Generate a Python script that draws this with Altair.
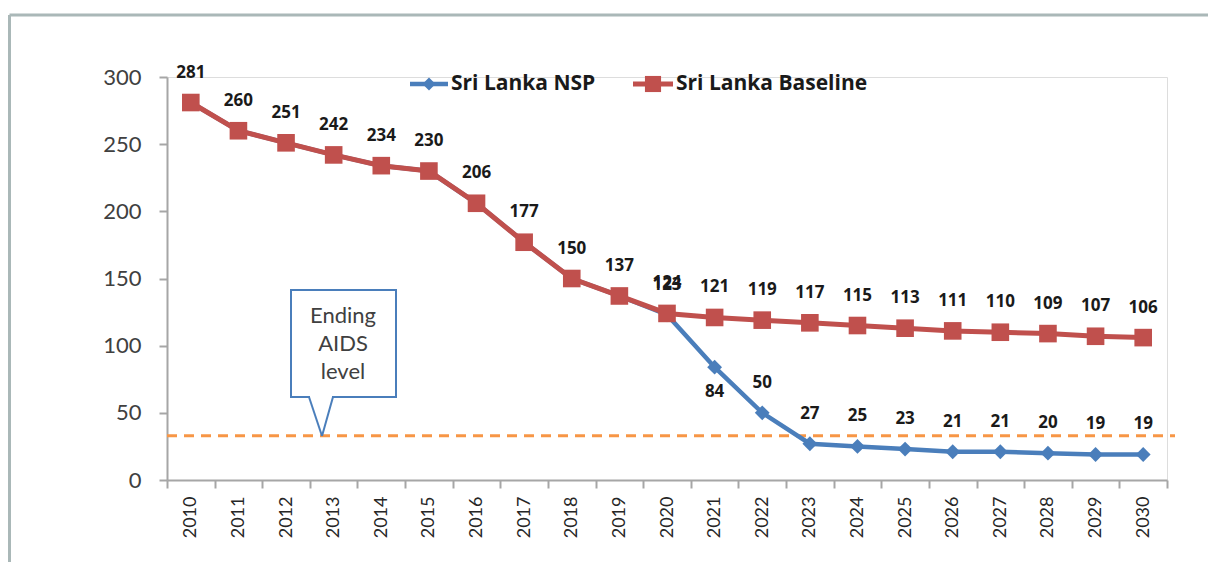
import altair as alt
import pandas as pd

years = list(range(2010, 2031))
baseline = [281, 260, 251, 242, 234, 230, 206, 177, 150, 137, 124, 121, 119, 117, 115, 113, 111, 110, 109, 107, 106]
nsp = [281, 260, 251, 242, 234, 230, 206, 177, 150, 137, 123, 84, 50, 27, 25, 23, 21, 21, 20, 19, 19]
series_names = ["Sri Lanka NSP", "Sri Lanka Baseline"]
ending_aids_level = 33
callout_lines = ["Ending", "AIDS", "level"]

BLUE = "#4a7ebb"
RED = "#c0504d"
ORANGE = "#f79646"
FONT = "Lato"
BFONT = "Open Sans"

df_base = pd.DataFrame({"year": years, "value": baseline})
df_nsp = pd.DataFrame({"year": years, "value": nsp})
df_nsp_lab = df_nsp[df_nsp["year"] >= 2020]
one = pd.DataFrame({"a": [0]})

W, H = 1000, 403

x = alt.X("year:O",
          scale=alt.Scale(type="band", paddingInner=0, paddingOuter=0),
          axis=alt.Axis(title=None, labelAngle=-90, labelAlign="right", labelBaseline="middle",
                        labelFontSize=18, labelFont=FONT, labelColor="#262626",
                        tickBand="extent", tickSize=8, tickColor="#a6a6a6", tickWidth=2,
                        domainColor="#a6a6a6", domainWidth=2, labelPadding=8))
y = alt.Y("value:Q",
          scale=alt.Scale(domain=[0, 300]),
          axis=alt.Axis(title=None, values=[0, 50, 100, 150, 200, 250, 300], grid=False,
                        labelFontSize=22, labelFont=FONT, labelColor="#404040",
                        tickSize=8, tickColor="#a6a6a6", tickWidth=2,
                        domainColor="#a6a6a6", domainWidth=2, labelPadding=18))

nsp_line = alt.Chart(df_nsp).mark_line(color=BLUE, strokeWidth=4.5).encode(x=x, y=y)
nsp_pts = alt.Chart(df_nsp).mark_point(shape="diamond", filled=True, size=220, color=BLUE, opacity=1).encode(x=x, y=y)
base_line = alt.Chart(df_base).mark_line(color=RED, strokeWidth=5).encode(x=x, y=y)
base_pts = alt.Chart(df_base).mark_point(shape="square", filled=True, size=310, color=RED, opacity=1).encode(x=x, y=y)

lab_style = dict(font=BFONT, fontSize=17, fontWeight="bold", color="#1a1a1a", baseline="middle")
base_lab = alt.Chart(df_base).mark_text(dy=-30, **lab_style).encode(x=x, y=y, text="value:Q")
nsp_lab_above = alt.Chart(df_nsp_lab).transform_filter("datum.year != 2021").mark_text(dy=-30, **lab_style).encode(x=x, y=y, text="value:Q")
nsp_lab_below = alt.Chart(df_nsp_lab).transform_filter("datum.year == 2021").mark_text(dy=25, **lab_style).encode(x=x, y=y, text="value:Q")

dash = alt.Chart(one).mark_rule(color=ORANGE, strokeWidth=3, strokeDash=[10, 7]).encode(
    y=alt.Y(datum=ending_aids_level, type="quantitative"), x=alt.value(0), x2=alt.value(1008))

# callout
layers_callout = []
layers_callout.append(alt.Chart(one).mark_rect(fill="white", stroke=BLUE, strokeWidth=2).encode(
    x=alt.value(124), x2=alt.value(229), y=alt.value(213), y2=alt.value(320)))
layers_callout.append(alt.Chart(one).mark_rule(color="white", strokeWidth=3).encode(
    x=alt.value(143), x2=alt.value(165), y=alt.value(320), y2=alt.value(320)))
layers_callout.append(alt.Chart(one).mark_rule(color=BLUE, strokeWidth=2).encode(
    x=alt.value(142), x2=alt.value(155), y=alt.value(320), y2=alt.value(359)))
layers_callout.append(alt.Chart(one).mark_rule(color=BLUE, strokeWidth=2).encode(
    x=alt.value(166), x2=alt.value(155), y=alt.value(320), y2=alt.value(359)))
for i, t in enumerate(callout_lines):
    layers_callout.append(alt.Chart(one).mark_text(font=FONT, fontSize=22, color="#404040", align="center", baseline="middle").encode(
        x=alt.value(176), y=alt.value(239 + 28 * i), text=alt.value(t)))

# legend
leg = []
leg.append(alt.Chart(one).mark_rule(color=BLUE, strokeWidth=4.5).encode(x=alt.value(243), x2=alt.value(281), y=alt.value(7), y2=alt.value(7)))
leg.append(alt.Chart(one).mark_point(shape="diamond", filled=True, size=170, color=BLUE, opacity=1).encode(x=alt.value(262), y=alt.value(7)))
leg.append(alt.Chart(one).mark_text(font=BFONT, fontSize=21, fontWeight="bold", color="#1a1a1a", align="left", baseline="middle").encode(
    x=alt.value(284), y=alt.value(7), text=alt.value(series_names[0])))
leg.append(alt.Chart(one).mark_rule(color=RED, strokeWidth=5).encode(x=alt.value(466), x2=alt.value(506), y=alt.value(7), y2=alt.value(7)))
leg.append(alt.Chart(one).mark_point(shape="square", filled=True, size=260, color=RED, opacity=1).encode(x=alt.value(486), y=alt.value(7)))
leg.append(alt.Chart(one).mark_text(font=BFONT, fontSize=21, fontWeight="bold", color="#1a1a1a", align="left", baseline="middle").encode(
    x=alt.value(509), y=alt.value(7), text=alt.value(series_names[1])))

# frame
FRAME = "#aab8b8"
frame = [
    alt.Chart(one).mark_rule(color=FRAME, strokeWidth=3).encode(x=alt.value(-157.5), x2=alt.value(1041), y=alt.value(-62), y2=alt.value(-62)),
    alt.Chart(one).mark_rule(color=FRAME, strokeWidth=3).encode(x=alt.value(-157.5), x2=alt.value(-157.5), y=alt.value(-62), y2=alt.value(485)),
]

chart = alt.layer(
    *frame, dash, *layers_callout, nsp_line, nsp_pts, base_line, base_pts,
    base_lab, nsp_lab_above, nsp_lab_below, *leg
).properties(
    width=W, height=H,
    autosize=alt.AutoSizeParams(type="none"),
    padding={"left": 159, "top": 69, "right": 41, "bottom": 82},
).configure_view(stroke=None).configure(background="white")

chart.save("out.html", embed_options={"renderer": "svg", "actions": False})
